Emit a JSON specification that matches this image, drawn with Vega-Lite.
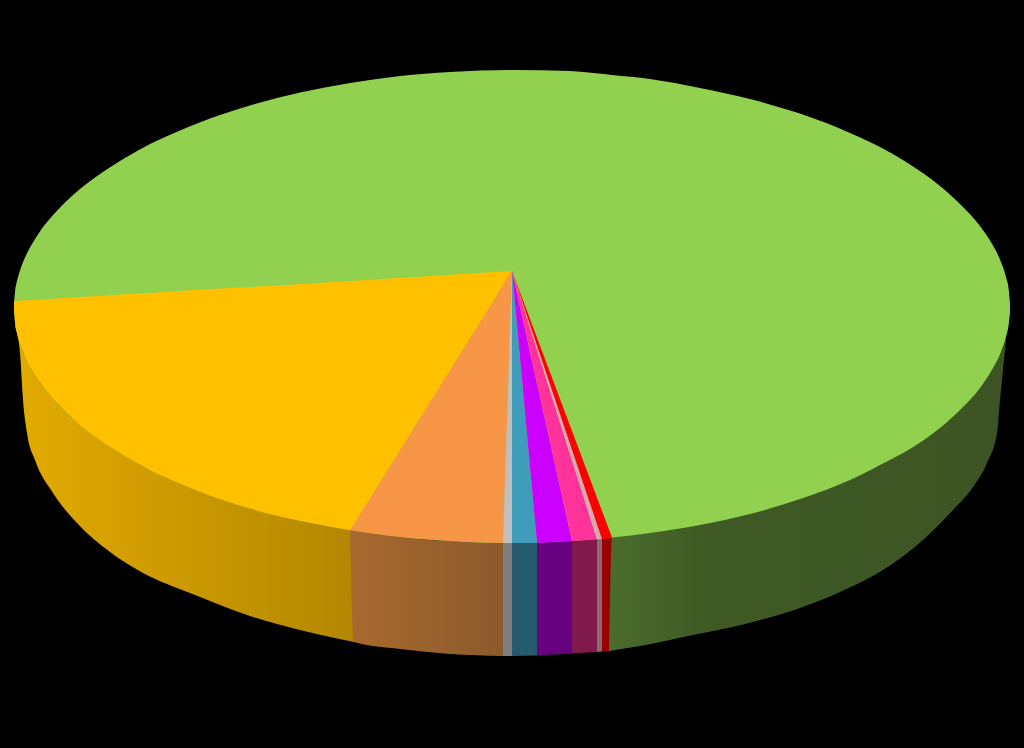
{
  "$schema": "https://vega.github.io/schema/vega-lite/v6.json",
  "width": 1024,
  "height": 748,
  "autosize": {"type": "fit", "contains": "padding"},
  "padding": 0,
  "background": "#000000",
  "view": {"stroke": null},
  "datasets": {
    "side": [
      {"slice":"yellow","x":17,"y":333,"y2":333},{"slice":"yellow","x":20,"y":343,"y2":353},{"slice":"yellow","x":23,"y":352,"y2":400},{"slice":"yellow","x":27,"y":360,"y2":433},{"slice":"yellow","x":35,"y":375,"y2":460},{"slice":"yellow","x":53,"y":398,"y2":493},{"slice":"yellow","x":77,"y":422,"y2":523},{"slice":"yellow","x":110,"y":446,"y2":552},{"slice":"yellow","x":143,"y":466,"y2":573},{"slice":"yellow","x":190,"y":487,"y2":593},{"slice":"yellow","x":250,"y":508,"y2":616},{"slice":"yellow","x":300,"y":521,"y2":630},{"slice":"yellow","x":354,"y":530,"y2":642},
      {"slice":"orange","x":350,"y":530,"y2":530},{"slice":"orange","x":354,"y":530,"y2":642},{"slice":"orange","x":400,"y":537,"y2":649},{"slice":"orange","x":450,"y":541,"y2":654},{"slice":"orange","x":503,"y":542,"y2":656},
      {"slice":"grey","x":503,"y":542,"y2":656},{"slice":"grey","x":512,"y":542,"y2":656},
      {"slice":"teal","x":512,"y":542,"y2":656},{"slice":"teal","x":537,"y":542,"y2":655.5},
      {"slice":"magenta","x":537,"y":542,"y2":655.5},{"slice":"magenta","x":572,"y":540,"y2":653.5},
      {"slice":"pink","x":572,"y":540,"y2":653.5},{"slice":"pink","x":597,"y":538.5,"y2":652},
      {"slice":"blush","x":597,"y":538.5,"y2":652},{"slice":"blush","x":602,"y":538,"y2":651.5},
      {"slice":"red","x":602,"y":538,"y2":651.5},{"slice":"red","x":612,"y":537,"y2":651},
      {"slice":"green","x":609,"y":651,"y2":651},{"slice":"green","x":612,"y":537,"y2":650.5},{"slice":"green","x":640,"y":534,"y2":646},{"slice":"green","x":693,"y":525,"y2":635},{"slice":"green","x":753,"y":512,"y2":622},{"slice":"green","x":800,"y":498,"y2":608},{"slice":"green","x":840,"y":482,"y2":592},{"slice":"green","x":883,"y":463,"y2":570},{"slice":"green","x":923,"y":438,"y2":540},{"slice":"green","x":953,"y":414,"y2":510},{"slice":"green","x":973,"y":394,"y2":487},{"slice":"green","x":987,"y":376,"y2":463},{"slice":"green","x":997,"y":359,"y2":433},{"slice":"green","x":1000,"y":354,"y2":400},{"slice":"green","x":1003,"y":347,"y2":370},{"slice":"green","x":1006,"y":339,"y2":340}
    ],
    "disc": [
      {"x":14,"y":304,"y2":308},{"x":15,"y":292,"y2":322},{"x":17,"y":281,"y2":333},{"x":20,"y":270.5,"y2":343.5},{"x":25,"y":257.5,"y2":356.5},{"x":32,"y":244,"y2":370},{"x":40,"y":231.4,"y2":382.6},{"x":50,"y":218.6,"y2":395},{"x":65,"y":202.5,"y2":411},{"x":80,"y":189,"y2":425},{"x":100,"y":174,"y2":440},{"x":125,"y":158,"y2":456},{"x":150,"y":144,"y2":470},{"x":180,"y":130.4,"y2":483.6},{"x":210,"y":118.5,"y2":495.5},{"x":250,"y":105.5,"y2":508.5},{"x":300,"y":92.6,"y2":521},{"x":350,"y":83,"y2":530},{"x":400,"y":76,"y2":537},{"x":450,"y":72,"y2":541},{"x":512,"y":70,"y2":543},{"x":570,"y":71,"y2":541},{"x":612,"y":75,"y2":537.5},{"x":650,"y":79,"y2":533},{"x":700,"y":88,"y2":525},{"x":750,"y":99,"y2":514},{"x":800,"y":113.6,"y2":499},{"x":850,"y":133,"y2":480},{"x":880,"y":147,"y2":465},{"x":910,"y":164.6,"y2":449},{"x":940,"y":186,"y2":428},{"x":963,"y":207,"y2":407},{"x":980,"y":226,"y2":388},{"x":993,"y":245.6,"y2":368},{"x":1001,"y":262,"y2":352},{"x":1006,"y":277,"y2":337},{"x":1009,"y":292,"y2":322},{"x":1010,"y":304,"y2":312}
    ],
    "rim": [
      {"slice":"yellow","x":14,"y":301,"y2":308},{"slice":"yellow","x":15,"y":301,"y2":322},{"slice":"yellow","x":17,"y":301,"y2":333},{"slice":"yellow","x":20,"y":300.6,"y2":343.5},{"slice":"yellow","x":25,"y":300.3,"y2":356.5},{"slice":"yellow","x":32,"y":300,"y2":370},{"slice":"yellow","x":40,"y":299.4,"y2":382.6},{"slice":"yellow","x":50,"y":299,"y2":395},{"slice":"yellow","x":65,"y":298,"y2":411},{"slice":"yellow","x":80,"y":297,"y2":425},{"slice":"yellow","x":100,"y":296,"y2":440},{"slice":"yellow","x":125,"y":294.3,"y2":456},{"slice":"yellow","x":150,"y":293,"y2":470},{"slice":"yellow","x":180,"y":291,"y2":483.6},{"slice":"yellow","x":210,"y":289,"y2":495.5},{"slice":"yellow","x":250,"y":287,"y2":508.5},{"slice":"yellow","x":300,"y":284,"y2":521},{"slice":"yellow","x":350,"y":281,"y2":530},
      {"slice":"orange","x":350,"y":530,"y2":530},{"slice":"orange","x":400,"y":450,"y2":537},{"slice":"orange","x":450,"y":370,"y2":541},{"slice":"orange","x":503,"y":285,"y2":543}
    ],
    "wedges": [
      {"slice":"yellow tip","x":350,"y":281,"y2":530},{"slice":"yellow tip","x":512,"y":271,"y2":271},
      {"slice":"orange tail","x":503,"y":285,"y2":543},{"slice":"orange tail","x":512,"y":271,"y2":271},
      {"slice":"grey","x":503,"y":543,"y2":543},{"slice":"grey","x":512,"y":271,"y2":543},
      {"slice":"teal","x":512,"y":271,"y2":543},{"slice":"teal","x":537,"y":543,"y2":543},
      {"slice":"magenta","x":512,"y":271,"y2":271},{"slice":"magenta","x":537,"y":383.5,"y2":543},{"slice":"magenta","x":572,"y":541,"y2":541},
      {"slice":"pink","x":512,"y":271,"y2":271},{"slice":"pink","x":572,"y":460.5,"y2":541},{"slice":"pink","x":597,"y":539.5,"y2":539.5},
      {"slice":"blush","x":512,"y":271,"y2":271},{"slice":"blush","x":597,"y":524,"y2":539.5},{"slice":"blush","x":602,"y":539,"y2":539},
      {"slice":"red","x":512,"y":271,"y2":271},{"slice":"red","x":602,"y":511,"y2":539},{"slice":"red","x":612,"y":537.5,"y2":537.5}
    ]
  },
  "encoding": {
    "x": {"field": "x", "type": "quantitative", "axis": null, "scale": {"domain": [0, 1024], "nice": false, "zero": false}},
    "y": {"field": "y", "type": "quantitative", "axis": null, "scale": {"domain": [748, 0], "nice": false, "zero": false}},
    "y2": {"field": "y2"}
  },
  "layer": [
    {
      "data": {"name": "side"},
      "transform": [{"filter": "datum.slice == 'yellow'"}],
      "mark": {"type": "area", "interpolate": "monotone", "color": {"gradient": "linear", "x1": 0, "x2": 1, "y1": 0, "y2": 0, "stops": [{"offset": 0, "color": "#E2AB00"}, {"offset": 1, "color": "#B38700"}]}}
    },
    {
      "data": {"name": "side"},
      "transform": [{"filter": "datum.slice == 'orange'"}],
      "mark": {"type": "area", "interpolate": "monotone", "color": {"gradient": "linear", "x1": 0, "x2": 1, "y1": 0, "y2": 0, "stops": [{"offset": 0, "color": "#A9692F"}, {"offset": 1, "color": "#8B5A2B"}]}}
    },
    {
      "data": {"name": "side"},
      "transform": [{"filter": "datum.slice == 'grey' || datum.slice == 'teal' || datum.slice == 'magenta' || datum.slice == 'pink' || datum.slice == 'blush' || datum.slice == 'red'"}],
      "mark": "area",
      "encoding": {
        "color": {"field": "slice", "type": "nominal", "legend": null, "scale": {"domain": ["grey", "teal", "magenta", "pink", "blush", "red"], "range": ["#7F7F7F", "#255B6C", "#660080", "#801A4D", "#8A6A72", "#990000"]}}
      }
    },
    {
      "data": {"name": "side"},
      "transform": [{"filter": "datum.slice == 'green'"}],
      "mark": {"type": "area", "interpolate": "monotone", "color": {"gradient": "linear", "x1": 0, "x2": 1, "y1": 0, "y2": 0, "stops": [{"offset": 0, "color": "#4A6C2C"}, {"offset": 0.25, "color": "#3F5A25"}, {"offset": 1, "color": "#3C5423"}]}}
    },
    {
      "data": {"name": "disc"},
      "mark": {"type": "area", "interpolate": "monotone", "color": "#92D050"}
    },
    {
      "data": {"name": "rim"},
      "transform": [{"filter": "datum.slice == 'yellow'"}],
      "mark": {"type": "area", "interpolate": "monotone", "color": "#FFC000"}
    },
    {
      "data": {"name": "rim"},
      "transform": [{"filter": "datum.slice == 'orange'"}],
      "mark": {"type": "area", "interpolate": "monotone", "color": "#F79646"}
    },
    {
      "data": {"name": "wedges"},
      "mark": "area",
      "encoding": {
        "color": {"field": "slice", "type": "nominal", "legend": null, "scale": {"domain": ["yellow tip", "orange tail", "grey", "teal", "magenta", "pink", "blush", "red"], "range": ["#FFC000", "#F79646", "#BFBFBF", "#3F9DBB", "#CC00FF", "#FF3399", "#D9A6B4", "#FF0000"]}}
      }
    }
  ],
  "resolve": {"scale": {"color": "independent"}}
}
